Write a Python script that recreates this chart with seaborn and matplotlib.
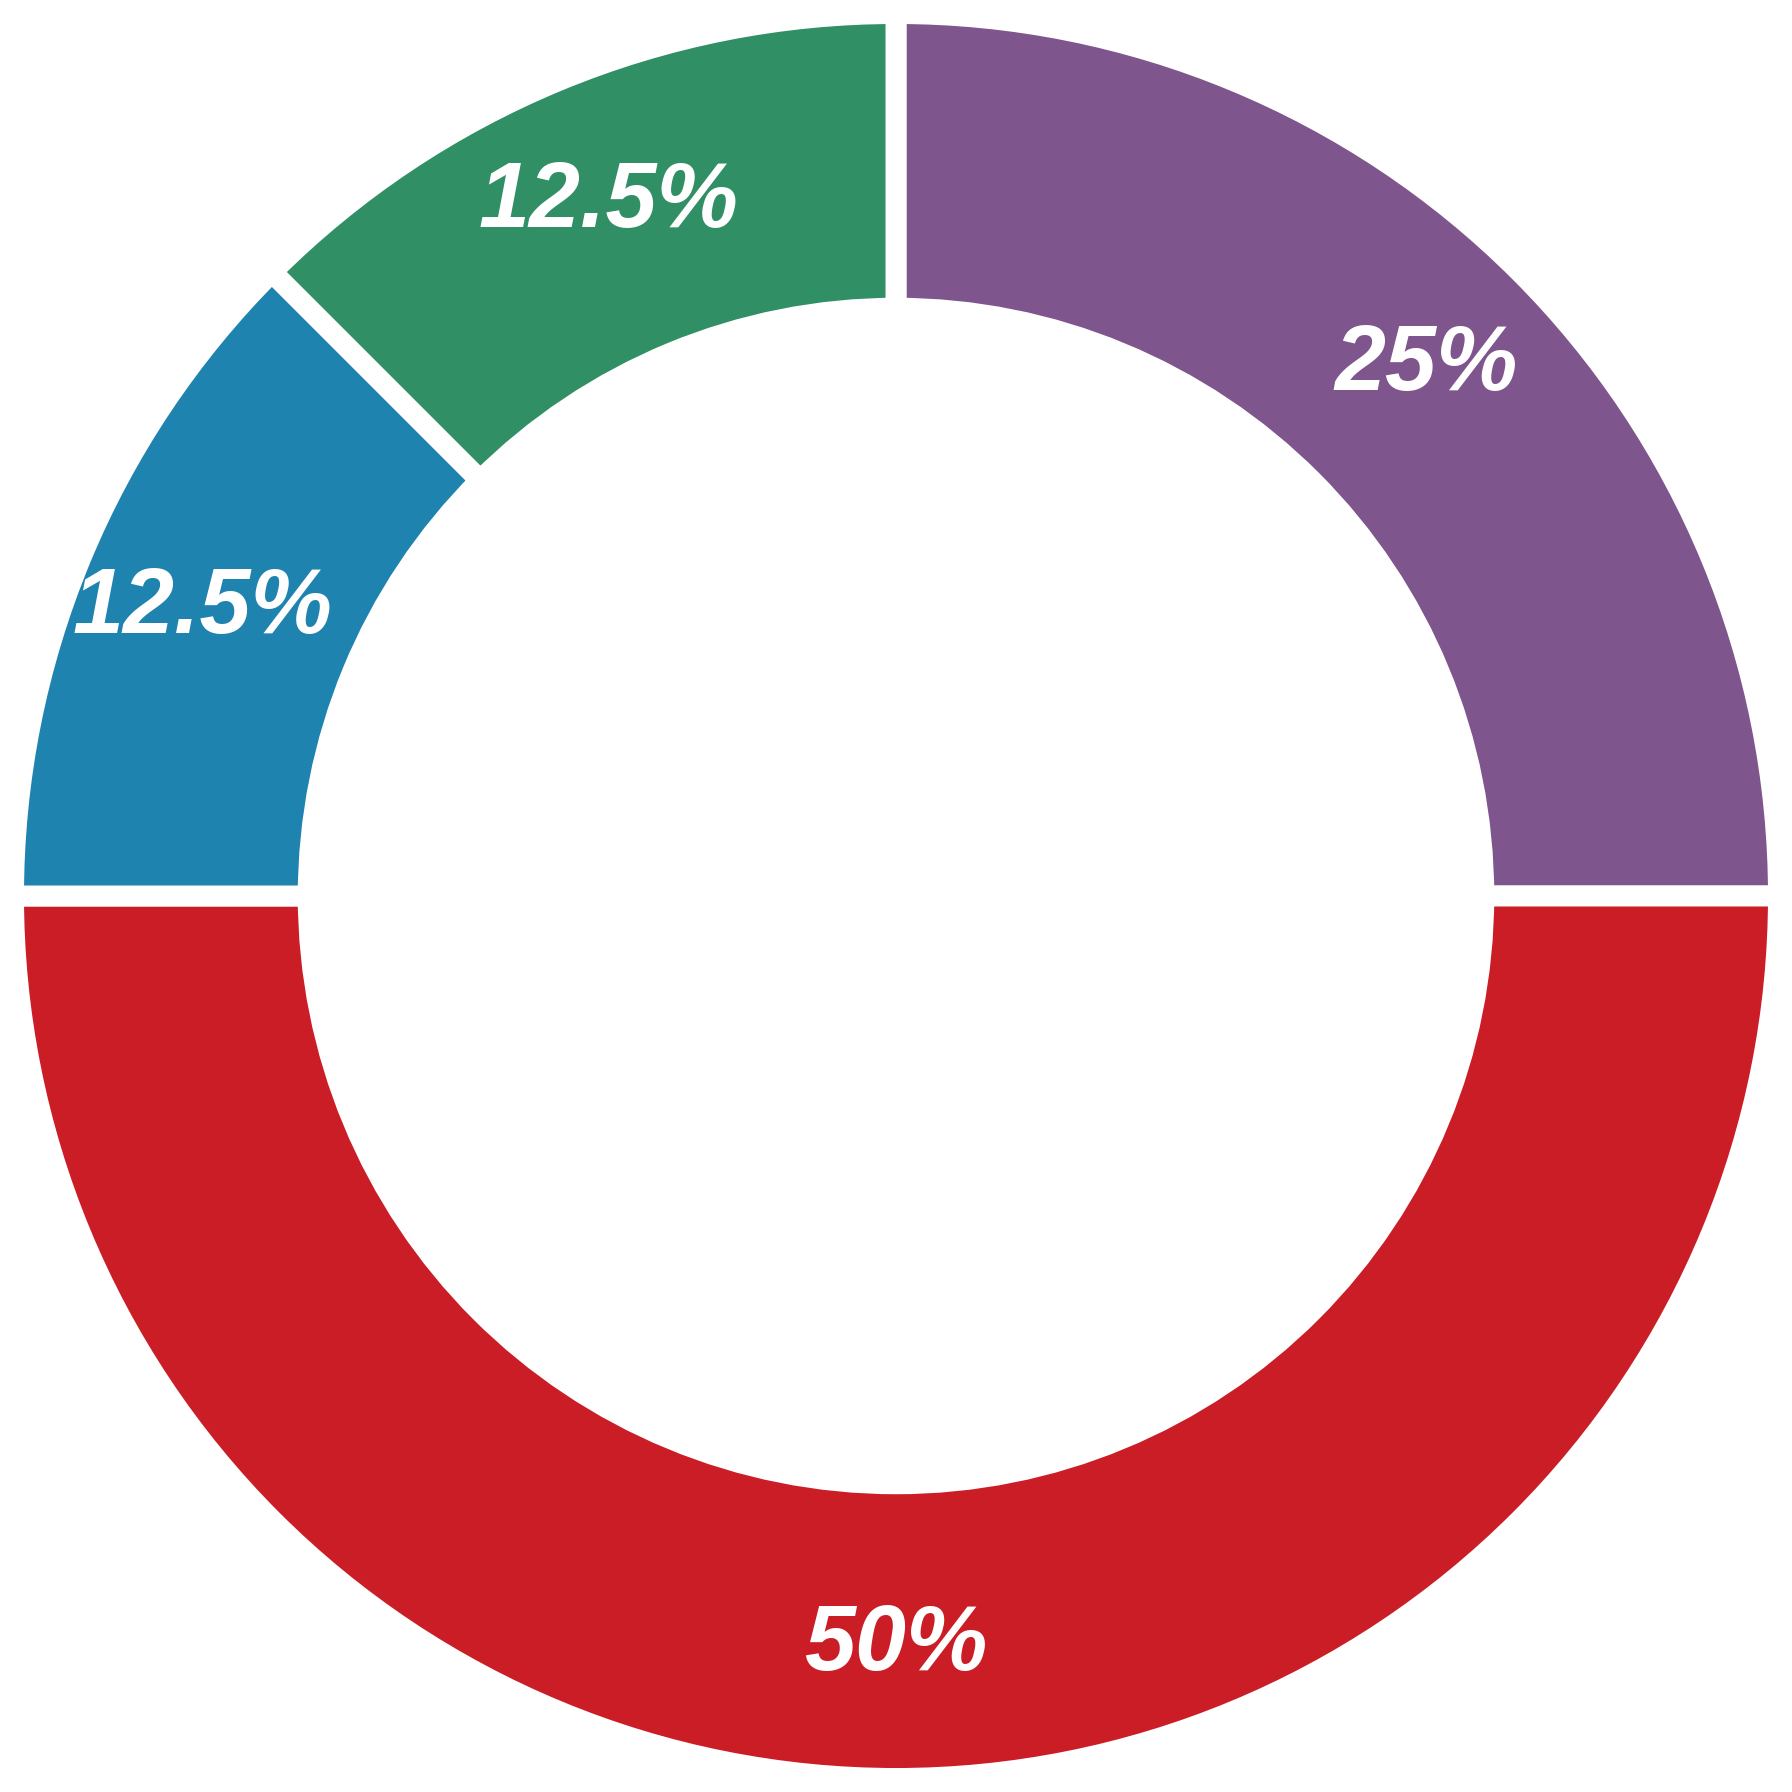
import matplotlib
matplotlib.use("Agg")
import matplotlib.pyplot as plt
from matplotlib.font_manager import FontProperties
import seaborn as sns

# ── Data ──────────────────────────────────────────────────────────────────────
categories = ["A", "B", "C", "D"]
shares = [25.0, 50.0, 12.5, 12.5]
colors = ["#7E558C", "#CB1D25", "#1F83AF", "#318F66"]

sns.set_theme(style="white")
plt.rcParams["font.family"] = ["Liberation Sans", "DejaVu Sans"]

label_font = FontProperties(family="Liberation Sans", weight="bold",
                            style="italic", size=66)

fig = plt.figure(figsize=(17.92, 17.92), dpi=100)
ax = fig.add_axes([0, 0, 1, 1])

# donut: clockwise from 12 o'clock, white gaps between slices
wedges, _, autotexts = ax.pie(
    shares,
    colors=colors,
    startangle=90,
    counterclock=False,
    radius=1.0,
    autopct=lambda p: f"{p:g}%",
    pctdistance=0.85,
    textprops=dict(color="white", fontproperties=label_font),
    wedgeprops=dict(width=0.334, edgecolor="white", linewidth=15.1),
)

lim = 1792 / 2 / 882.5
ax.set_xlim(-lim, lim)
ax.set_ylim(-lim, lim)
ax.set_aspect("equal")
ax.axis("off")

fig.savefig("out.png", dpi=100, facecolor="white")
